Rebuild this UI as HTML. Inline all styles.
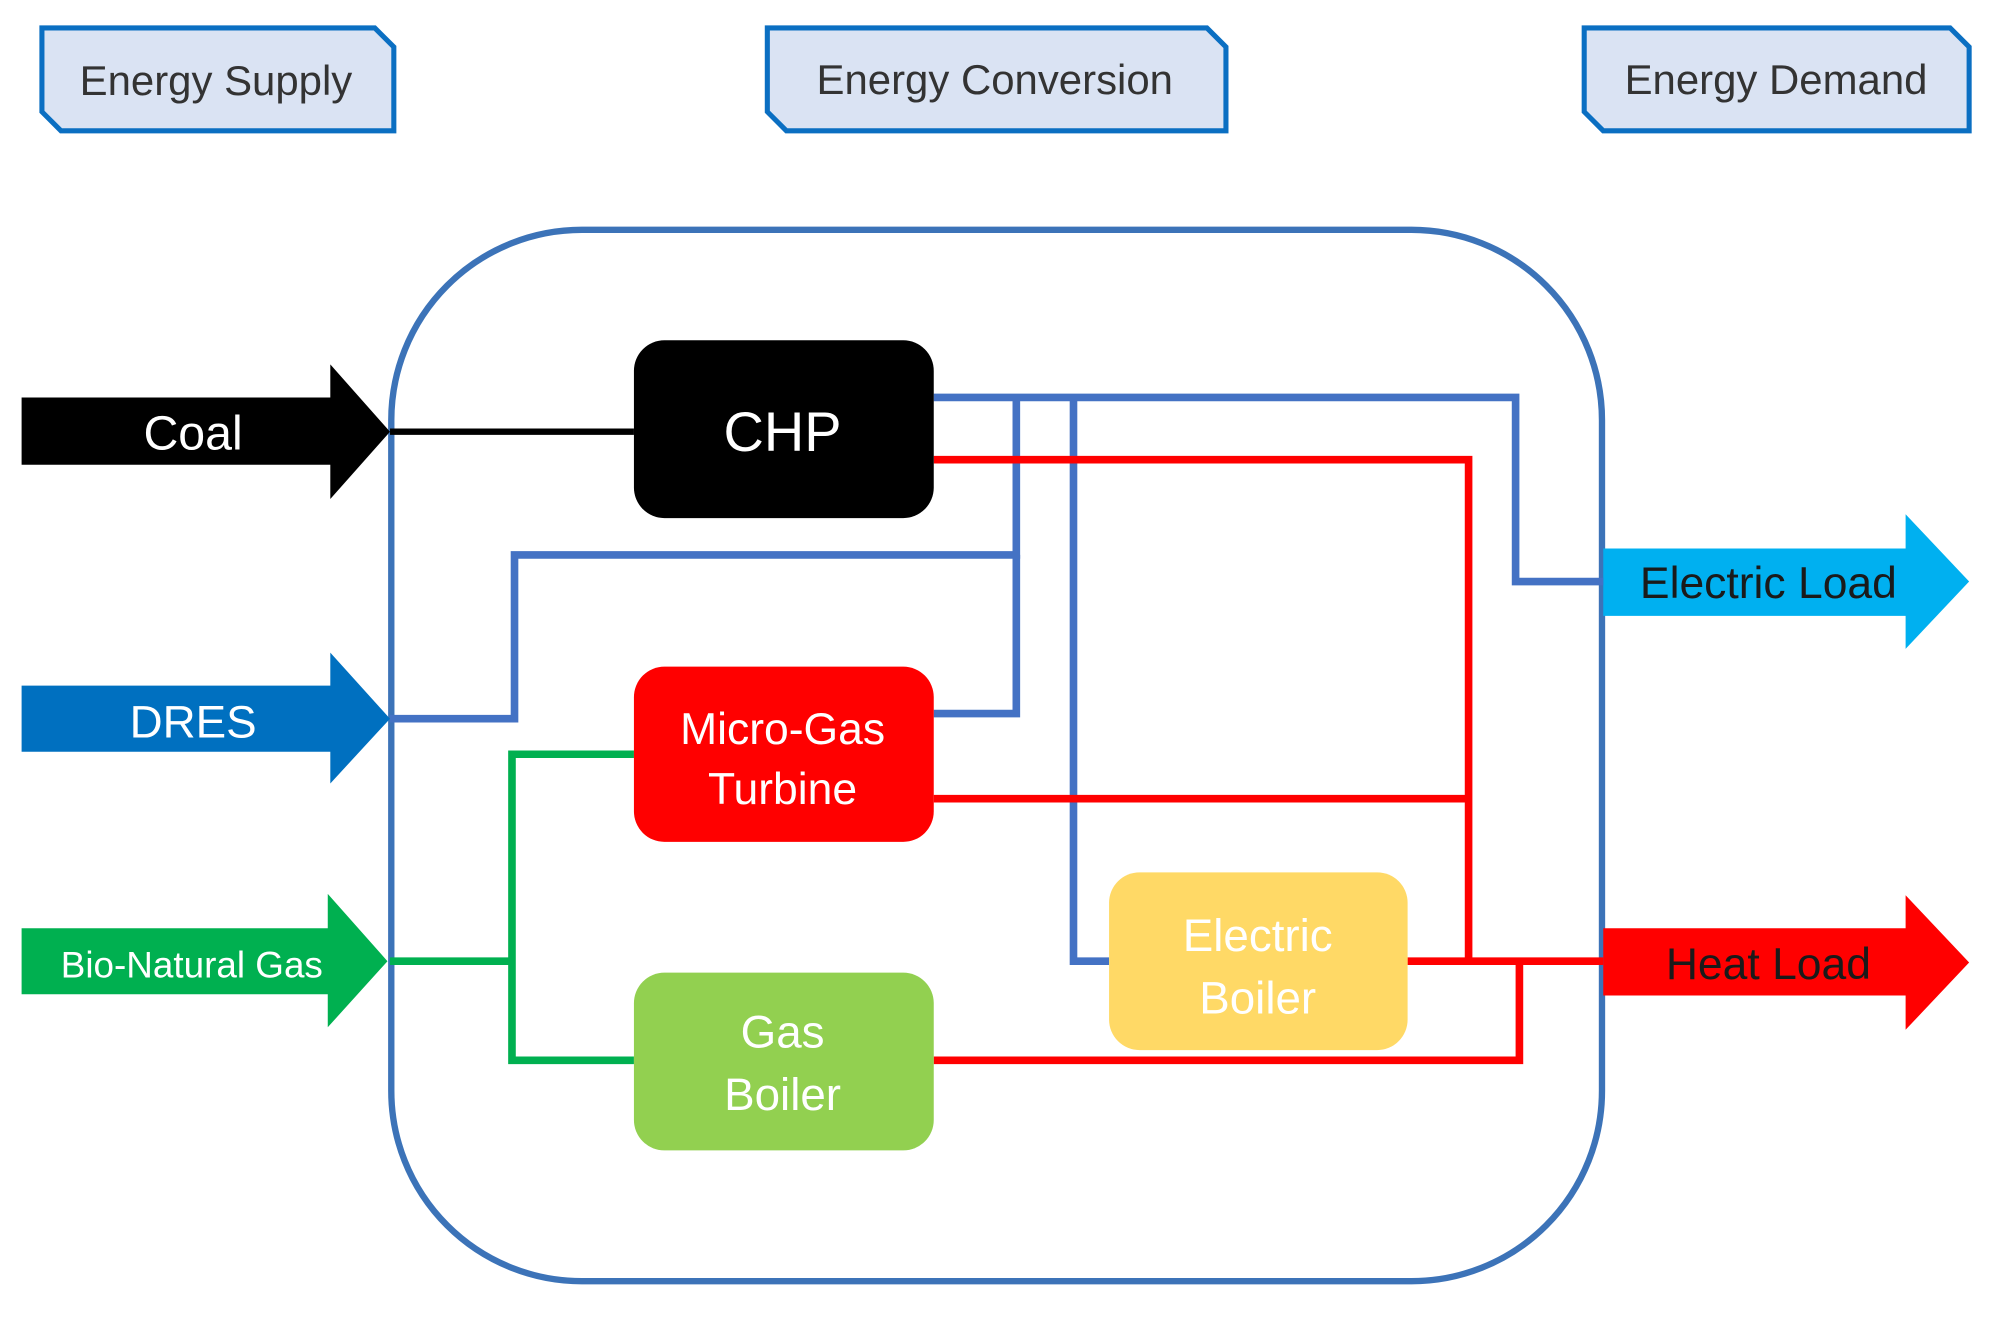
<!DOCTYPE html>
<html><head><meta charset="utf-8"><style>html,body{margin:0;padding:0;background:#fff}svg{display:block}</style></head>
<body>
<svg width="1992" height="1332" viewBox="0 0 1568 1049" preserveAspectRatio="none" xmlns="http://www.w3.org/2000/svg" font-family="Liberation Sans, sans-serif">
<g stroke="#0b6fc2" stroke-width="4" fill="#dae3f3">
<path d="M33,22 H295 L310,37 V103 H48 L33,88 Z"/>
<path d="M604,22 H950 L965,37 V103 H619 L604,88 Z"/>
<path d="M1247,22 H1535 L1550,37 V103 H1262 L1247,88 Z"/>
</g>
<g font-size="33" fill="#333" text-anchor="middle">
<text x="170" y="75">Energy Supply</text>
<text x="783" y="74">Energy Conversion</text>
<text x="1398" y="74">Energy Demand</text>
</g>
<rect x="308" y="181" width="953" height="828" rx="150" ry="150" fill="none" stroke="#3c73b8" stroke-width="5"/>
<!-- arrows -->
<path d="M17,313 H260 V287 L307,340 L260,393 V366 H17 Z" fill="#000"/>
<path d="M17,540 H260 V514 L307,566 L260,617 V592 H17 Z" fill="#0070c0"/>
<path d="M17,731 H258 V704 L305,757 L258,809 V783 H17 Z" fill="#00b050"/>
<path d="M1262,432 H1500 V405 L1550,458 L1500,511 V485 H1262 Z" fill="#00b0f0"/>
<path d="M1262,731 H1500 V705 L1550,758 L1500,811 V784 H1262 Z" fill="#ff0000"/>
<!-- lines -->
<g fill="none" stroke-width="6" stroke-linejoin="miter">
<path d="M307,340 H499" stroke="#000" stroke-width="5"/>
<g stroke="#4472c4">
<path d="M735,313 H1193 V458 H1262"/>
<path d="M800,313 V437 H405 V566 H307"/>
<path d="M735,562 H800 V437"/>
<path d="M845,313 V757 H873"/>
</g>
<g stroke="#ff0000">
<path d="M735,362 H1156 V757"/>
<path d="M735,629 H1156"/>
<path d="M1108,757 H1262"/>
<path d="M735,835 H1196 V757"/>
</g>
<g stroke="#00b050">
<path d="M307,757 H403"/>
<path d="M499,594 H403 V835 H499"/>
</g>
</g>
<rect x="499" y="268" width="236" height="140" rx="24" fill="#000"/>
<rect x="499" y="525" width="236" height="138" rx="24" fill="#ff0000"/>
<rect x="499" y="766" width="236" height="140" rx="24" fill="#92d050"/>
<rect x="873" y="687" width="235" height="140" rx="24" fill="#ffd966"/>
<g fill="#fff" text-anchor="middle">
<text x="152" y="354" font-size="38">Coal</text>
<text x="152" y="581" font-size="36">DRES</text>
<text x="151" y="770" font-size="29">Bio-Natural Gas</text>
<text x="616" y="355" font-size="44">CHP</text>
<text x="616" y="586" font-size="35">Micro-Gas</text>
<text x="616" y="633" font-size="35">Turbine</text>
<text x="616" y="825" font-size="36">Gas</text>
<text x="616" y="874" font-size="36">Boiler</text>
<text x="990" y="749" font-size="36">Electric</text>
<text x="990" y="798" font-size="36">Boiler</text>
</g>
<g fill="#1a1a1a" text-anchor="middle" font-size="35">
<text x="1392" y="471">Electric Load</text>
<text x="1392" y="771">Heat Load</text>
</g>
</svg>
</body></html>
